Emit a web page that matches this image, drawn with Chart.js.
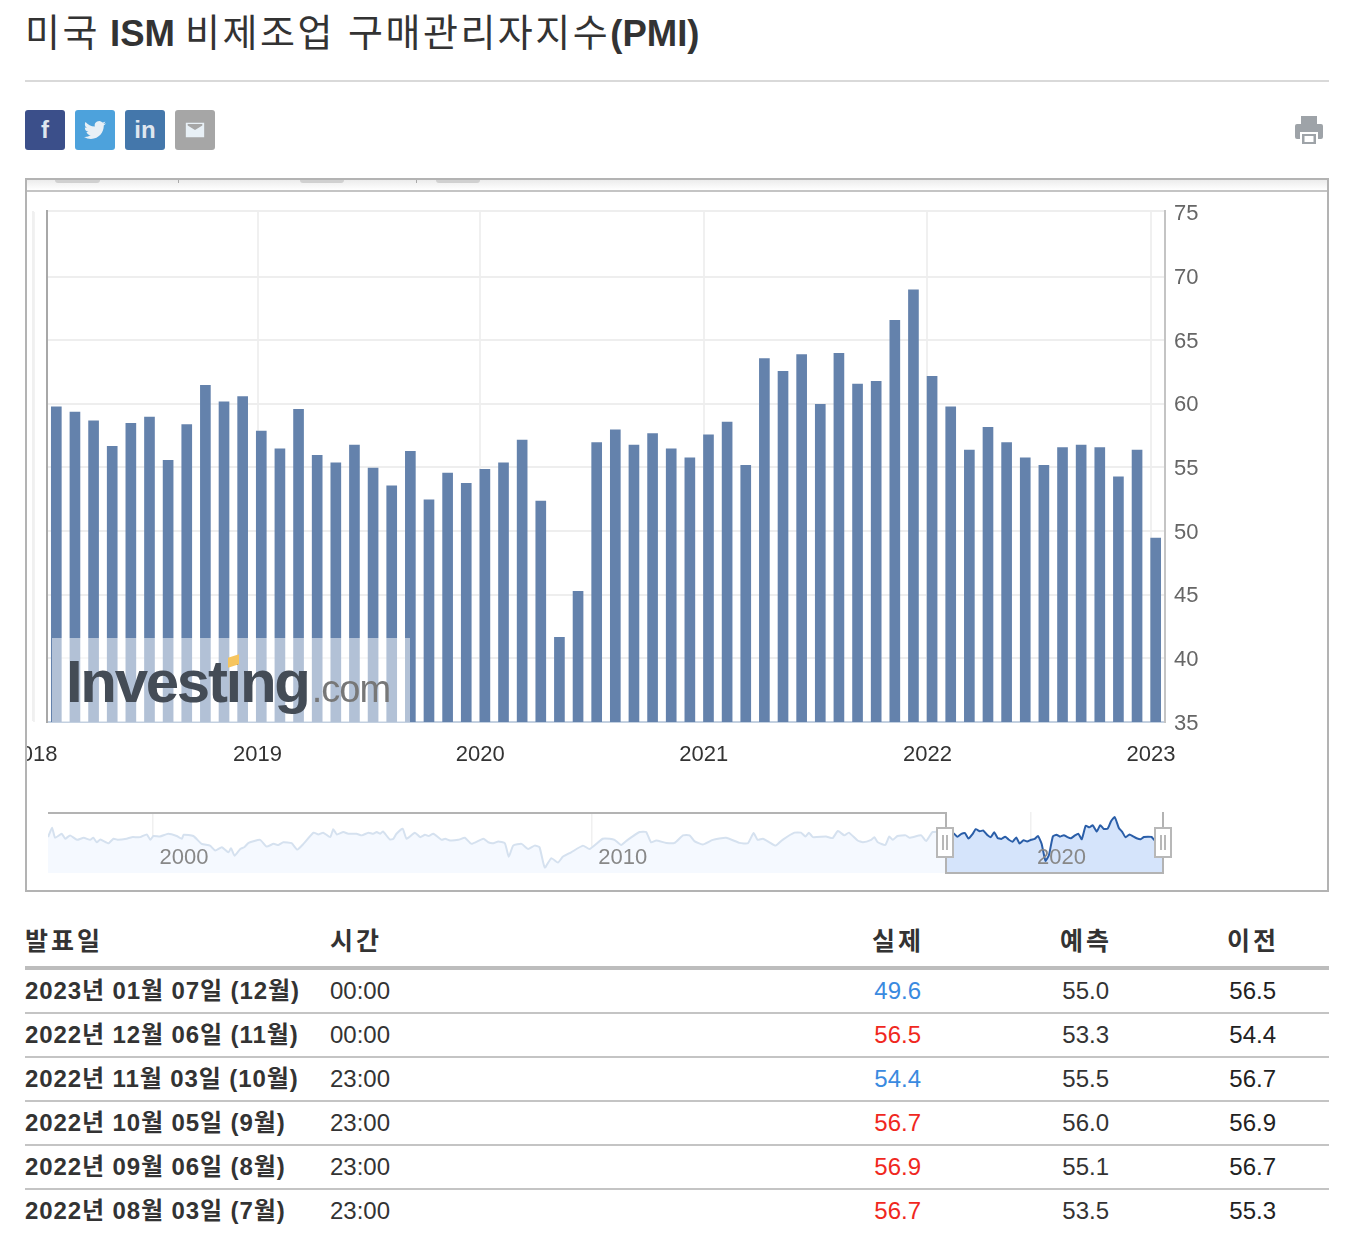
<!DOCTYPE html>
<html lang="ko">
<head>
<meta charset="utf-8">
<title>미국 ISM 비제조업 구매관리자지수(PMI)</title>
<script src="https://cdn.jsdelivr.net/npm/chart.js"></script>
<style>
  html, body { margin: 0; padding: 0; background: #fff; }
  body { position: relative; width: 1350px; height: 1246px; overflow: hidden; color: #333;
         font-family: "Liberation Sans", "Noto Sans CJK KR", sans-serif; }
  .abs { position: absolute; }
  h1 { position: absolute; left: 25px; top: 10px; margin: 0; font-size: 36.500px; line-height: 46px; font-weight: 700; white-space: nowrap; }
  h1 span { font-size: 38px; font-weight: 400; letter-spacing: 2.500px; }
  .rule { left: 25px; top: 80px; width: 1304px; height: 2px; background: #d9d9d9; }
  .icon { top: 110px; width: 40px; height: 40px; border-radius: 3px; color: #dfe6ef; text-align: center;
          font: 700 24px/40px "Liberation Sans", sans-serif; }
  .icon svg { position: absolute; left: 9px; top: 9px; width: 22px; height: 22px; fill: #e8f0f6; }
  .frame { left: 25px; top: 178px; width: 1300px; height: 710px; border: 2px solid #b3b3b3; }
  .strip { left: 27px; top: 180px; width: 1300px; height: 10px; border-bottom: 2px solid #c4c4c4;
           background: linear-gradient(#ececec, #fff); }
  .pill { top: 180px; height: 3px; background: #d0d0d0; border-radius: 0 0 6px 6px; }
  .nick { top: 180px; width: 1px; height: 3px; background: #aaa; }
  #mainWrap { left: 27px; top: 195px; width: 1300px; height: 600px; }
  #navWrap { left: 48px; top: 812px; width: 1115px; height: 61px; }
  .wash { left: 52px; top: 638px; width: 358px; height: 84px; background: rgba(255,255,255,.5); }
  .logo { left: 66px; top: 650px; font: 700 60px/64px "Liberation Sans", sans-serif; letter-spacing: -2.300px; color: #444c56; white-space: nowrap; }
  .logo small { font-size: 38px; font-weight: 400; letter-spacing: -1px; color: #777; margin-left: 3px; }
  .dot { left: 228px; top: 656px; width: 11px; height: 10px; background: #f6c55f; transform: skewY(-18deg); }
  .mask1 { left: 48px; top: 812px; width: 897px; height: 60px; border-top: 2px solid #b3b3b3; border-right: 2px solid #b3b3b3; }
  .mask2 { left: 947px; top: 812px; width: 215px; height: 60px; border-right: 2px solid #b3b3b3; border-bottom: 2px solid #b3b3b3; }
  .handle { top: 827px; width: 14px; height: 27px; background: #fff; border: 2px solid #b8b8b8; }
  .handle i { position: absolute; left: 4px; top: 6px; width: 2px; height: 15px; border-left: 2px solid #b8b8b8; border-right: 2px solid #b8b8b8; }
  table { position: absolute; left: 25px; top: 915px; width: 1304px; border-collapse: collapse; table-layout: fixed; font-size: 24px; }
  th { height: 51px; padding: 0; border-bottom: 4px solid #bdbdbd; font-size: 25px; font-weight: 700; letter-spacing: 3px; color: #333; text-align: right; }
  th span { position: relative; top: -2px; margin-right: -3px; }
  td { height: 42px; padding: 0; border-bottom: 2px solid #c4c4c4; text-align: right; color: #333; white-space: nowrap; }
  tr:last-child td { border-bottom: 0; }
  th.l, td.l { text-align: left; }
  td.date span { position: relative; top: -3px; font-weight: 700; letter-spacing: .9px; }
</style>
</head>
<body>
  <h1><span>미국</span> ISM <span>비제조업 구매관리자지수</span>(PMI)</h1>
  <div class="abs rule"></div>

  <div class="abs icon" style="left:25px;background:#3b4f8a">f</div>
  <div class="abs icon" style="left:75px;background:#4da2dc"><svg viewBox="0 0 24 24"><path d="M23.953 4.57a10 10 0 01-2.825.775 4.958 4.958 0 002.163-2.723c-.951.555-2.005.959-3.127 1.184a4.92 4.92 0 00-8.384 4.482C7.69 8.095 4.067 6.13 1.64 3.162a4.822 4.822 0 00-.666 2.475c0 1.71.87 3.213 2.188 4.096a4.904 4.904 0 01-2.228-.616v.06a4.923 4.923 0 003.946 4.827 4.996 4.996 0 01-2.212.085 4.936 4.936 0 004.604 3.417 9.867 9.867 0 01-6.102 2.105c-.39 0-.779-.023-1.17-.067a13.995 13.995 0 007.557 2.209c9.053 0 13.998-7.496 13.998-13.985 0-.21 0-.42-.015-.63A9.935 9.935 0 0024 4.59z"/></svg></div>
  <div class="abs icon" style="left:125px;background:#4477ab">in</div>
  <div class="abs icon" style="left:175px;background:#a6a6a6"><svg viewBox="0 0 24 24"><path d="M2 4h20v16H2zM4 7l8 5 8-5v-1.500H4z" fill-rule="evenodd"/></svg></div>
  <svg class="abs" style="left:1294px;top:115px" width="30" height="30" viewBox="0 0 30 30"><path fill="#9ea3a8" d="M7 1h16v8H7zM3 9h24a2 2 0 012 2v11a2 2 0 01-2 2h-3v-7H6v7H3a2 2 0 01-2-2V11a2 2 0 012-2zM8 19h14v10H8zM10.500 21v6h9v-6z" fill-rule="evenodd"/></svg>

  <div class="abs frame"></div>
  <div class="abs strip"></div>
  <div class="abs pill" style="left:55px;width:45px"></div>
  <div class="abs pill" style="left:300px;width:44px"></div>
  <div class="abs pill" style="left:436px;width:44px"></div>
  <div class="abs nick" style="left:178px"></div>
  <div class="abs nick" style="left:416px"></div>
  <div class="abs" style="left:33px;top:212px;width:2px;height:510px;background:#f2f2f2"></div>

  <div class="abs" id="mainWrap"><canvas id="mainChart"></canvas></div>
  <div class="abs wash"></div>
  <div class="abs logo">Investing<small>.com</small></div>
  <div class="abs dot"></div>

  <div class="abs" id="navWrap"><canvas id="navChart"></canvas></div>
  <div class="abs mask1"></div>
  <div class="abs mask2"></div>
  <div class="abs handle" style="left:936px"><i></i></div>
  <div class="abs handle" style="left:1154px"><i></i></div>

  <table id="releases">
    <colgroup><col style="width:305px"><col style="width:470px"><col style="width:121px"><col style="width:188px"><col style="width:167px"><col style="width:53px"></colgroup>
    <thead><tr><th class="l"><span>발표일</span></th><th class="l"><span>시간</span></th><th><span>실제</span></th><th><span>예측</span></th><th><span>이전</span></th><th></th></tr></thead>
    <tbody></tbody>
  </table>

  <script>
    // release month of each figure, bars sit evenly spaced like an ordinal axis
    const releaseDates = [
      '2018-02-05','2018-03-05','2018-04-04','2018-05-03','2018-06-05','2018-07-05','2018-08-03','2018-09-06','2018-10-03','2018-11-05','2018-12-05',
      '2019-01-07','2019-02-05','2019-03-05','2019-04-03','2019-05-03','2019-06-05','2019-07-03','2019-08-05','2019-09-05','2019-10-03','2019-11-05','2019-12-04',
      '2020-01-07','2020-02-05','2020-03-04','2020-04-03','2020-05-05','2020-06-03','2020-07-06','2020-08-05','2020-09-03','2020-10-05','2020-11-04','2020-12-03',
      '2021-01-06','2021-02-03','2021-03-03','2021-04-05','2021-05-05','2021-06-03','2021-07-06','2021-08-04','2021-09-03','2021-10-05','2021-11-03','2021-12-03',
      '2022-01-06','2022-02-03','2022-03-03','2022-04-05','2022-05-04','2022-06-03','2022-07-06','2022-08-03','2022-09-06','2022-10-05','2022-11-03','2022-12-06',
      '2023-01-07'
    ];
    const actualValues = [
      59.9,59.5,58.8,56.8,58.6,59.1,55.7,58.5,61.6,60.3,60.7,
      58.0,56.6,59.7,56.1,55.5,56.9,55.1,53.7,56.4,52.6,54.7,53.9,
      55.0,55.5,57.3,52.5,41.8,45.4,57.1,58.1,56.9,57.8,56.6,55.9,
      57.7,58.7,55.3,63.7,62.7,64.0,60.1,64.1,61.7,61.9,66.7,69.1,
      62.3,59.9,56.5,58.3,57.1,55.9,55.3,56.7,56.9,56.7,54.4,56.5,
      49.6
    ];
    const yearLabels = ['2018', '2019', '2020', '2021', '2022', '2023'];
    const yearTickIndex = [-1.25, 10.8, 22.75, 34.75, 46.75, 58.75];
    const valueTicks = [35, 40, 45, 50, 55, 60, 65, 70, 75];

    // overview strip: history before the selected window
    const historyYears = [
      1997.61,1997.70,1997.77,1997.92,1998.00,1998.11,1998.27,1998.42,1998.57,1998.64,1998.72,1998.80,1998.99,
      1999.10,1999.21,1999.40,1999.52,1999.71,1999.86,1999.94,2000.01,2000.16,2000.35,2000.54,2000.66,2000.70,2000.92,
      2001.11,2001.30,2001.42,2001.57,2001.72,2001.78,2001.86,2001.99,2002.08,2002.18,2002.44,2002.59,2002.75,2002.86,2002.97,
      2003.16,2003.29,2003.43,2003.66,2003.77,2003.88,2004.04,2004.11,2004.19,2004.34,2004.45,2004.64,2004.76,2004.91,
      2005.02,2005.10,2005.18,2005.24,2005.40,2005.48,2005.55,2005.69,2005.78,2005.97,2006.09,2006.20,2006.28,2006.39,2006.58,2006.66,2006.77,2006.96,
      2007.11,2007.26,2007.53,2007.64,2007.76,2007.87,2008.02,2008.11,2008.21,2008.40,2008.55,2008.70,2008.81,2008.93,
      2009.08,2009.23,2009.34,2009.53,2009.80,2009.95,2010.25,2010.41,2010.52,2010.67,2010.82,2011.09,2011.24,2011.35,2011.47,2011.70,2011.89,
      2012.08,2012.23,2012.34,2012.53,2012.76,2013.06,2013.37,2013.56,2013.69,2013.78,2013.90,2014.05,2014.19,2014.35,2014.62,2014.77,2014.87,2014.95,
      2015.04,2015.34,2015.49,2015.61,2015.76,2015.86,2016.06,2016.18,2016.37,2016.44,2016.52,2016.69,2016.78,2016.86,2016.97,
      2017.16,2017.24,2017.51,2017.62,2017.77
    ];
    const historyValues = [
      56.6,62.5,56.2,58.7,55.6,57.7,54.9,56.2,54.9,56.2,53.4,55.1,52.8,
      55.6,54.9,55.6,56.6,56.6,58.3,54.9,57.3,57.0,58.7,57.3,55.6,58.1,57.3,
      52.4,51.3,48.2,50.3,47.1,49.6,45.0,49.2,50.3,53.0,54.9,50.7,52.4,51.7,53.4,
      52.8,48.8,52.4,59.4,58.3,59.4,56.6,61.5,58.3,59.8,58.7,58.7,57.7,59.4,
      58.7,59.8,58.7,60.2,55.1,55.6,58.7,61.9,55.6,59.4,56.6,58.1,57.3,58.7,54.9,55.6,54.5,54.9,
      56.2,52.4,55.6,53.4,52.8,53.9,52.8,44.3,51.3,52.4,49.2,51.3,50.3,37.6,
      43.5,40.7,44.3,47.1,51.3,49.2,55.6,55.6,54.9,51.7,54.9,59.8,59.8,53.4,54.5,53.0,53.0,
      57.7,57.7,54.1,52.0,54.9,56.2,53.0,52.8,59.2,54.9,55.6,53.4,51.3,54.9,59.4,59.4,57.0,59.4,
      56.6,57.0,56.0,60.4,57.7,59.4,54.5,53.4,54.9,56.6,53.4,51.7,57.0,54.9,57.3,
      57.7,56.2,57.7,54.1,59.8
    ];
    const overviewTicks = [2000, 2010, 2020];

    // table
    const tableDates = ['2023년 01월 07일 (12월)','2022년 12월 06일 (11월)','2022년 11월 03일 (10월)','2022년 10월 05일 (9월)','2022년 09월 06일 (8월)','2022년 08월 03일 (7월)'];
    const tableTimes = ['00:00','00:00','23:00','23:00','23:00','23:00'];
    const tableActual = ['49.6','56.5','54.4','56.7','56.9','56.7'];
    const tableForecast = ['55.0','53.3','55.5','56.0','55.1','53.5'];
    const tablePrevious = ['56.5','54.4','56.7','56.9','56.7','55.3'];

    const tbody = document.querySelector('#releases tbody');
    tableDates.forEach((d, i) => {
      const color = +tableActual[i] < +tableForecast[i] ? '#3a8ae0' : '#f0281e';
      tbody.insertAdjacentHTML('beforeend',
        '<tr><td class="l date"><span>' + d + '</span></td><td class="l">' + tableTimes[i] + '</td>' +
        '<td style="color:' + color + '">' + tableActual[i] + '</td><td>' + tableForecast[i] + '</td>' +
        '<td style="color:#222">' + tablePrevious[i] + '</td><td></td></tr>');
    });

    const YEAR_MS = 365.25 * 86400000;
    const FONT = '"Liberation Sans", sans-serif';
    const Y_MAX = 75.15; // the plot's top edge sits just above the 75 label
    const BAR_SHIFT = 0.14; // bars in the picture sit about 2px under the gridlines
    Chart.defaults.animation = false;
    Chart.defaults.responsive = true;
    Chart.defaults.maintainAspectRatio = false;

    new Chart(document.getElementById('mainChart'), {
      type: 'bar',
      data: {
        labels: releaseDates,
        datasets: [{ data: actualValues, backgroundColor: '#6482ac', barThickness: 10, yAxisID: 'yLeft' }]
      },
      options: {
        layout: { padding: { left: 20, top: 16, right: 0, bottom: 0 } },
        plugins: { legend: { display: false }, tooltip: { enabled: false } },
        scales: {
          x: {
            type: 'category',
            offset: true,
            afterBuildTicks: s => { s.ticks = yearTickIndex.map(v => ({ value: v })); },
            afterFit: s => { s.height = 73; s.paddingLeft = 0; s.paddingRight = 0; },
            grid: { offset: false, color: '#f0f0f0', lineWidth: 2, drawTicks: false },
            border: { color: '#c3d0e0', width: 2 },
            ticks: {
              autoSkip: false, maxRotation: 0, padding: 20, color: '#333',
              font: { family: FONT, size: 22 },
              callback: v => yearLabels[yearTickIndex.indexOf(v)]
            }
          },
          y: {
            position: 'right',
            min: 35,
            max: Y_MAX,
            afterBuildTicks: s => { s.ticks = valueTicks.concat(Y_MAX).map(v => ({ value: v })); },
            afterFit: s => { s.width = 162; s.paddingTop = 0; s.paddingBottom = 0; },
            grid: { color: c => (c.tick.value === 75 ? 'transparent' : '#eeeeee'), lineWidth: 2, drawTicks: false },
            border: { color: '#c4c4c4', width: 2 },
            ticks: {
              padding: 9, labelOffset: 1.5, color: '#666', font: { family: FONT, size: 22 },
              callback: v => (v === Y_MAX ? '' : String(v))
            }
          },
          yLeft: {
            position: 'left',
            min: 35 + BAR_SHIFT,
            max: Y_MAX + BAR_SHIFT,
            afterFit: s => { s.width = 0; s.paddingTop = 0; s.paddingBottom = 0; },
            grid: { display: false, drawTicks: false },
            border: { color: '#a8a8a8', width: 2 },
            ticks: { display: false }
          }
        }
      }
    });

    // selected window in decimal years
    const selectedPoints = releaseDates.map((d, i) => ({ x: 1970 + Date.parse(d) / YEAR_MS, y: actualValues[i] }));
    const historyPoints = historyYears.map((y, i) => ({ x: y, y: historyValues[i] }));
    historyPoints.push(selectedPoints[0]);

    new Chart(document.getElementById('navChart'), {
      type: 'line',
      data: {
        datasets: [
          { data: historyPoints, borderColor: '#d5e1ef', backgroundColor: '#f5f9ff', borderWidth: 2, pointRadius: 0, fill: 'start', tension: 0.15 },
          { data: selectedPoints, borderColor: '#2a5ea8', backgroundColor: '#d5e4fb', borderWidth: 2, pointRadius: 0, fill: 'start', tension: 0.15 }
        ]
      },
      options: {
        layout: { padding: 0 },
        plugins: { legend: { display: false }, tooltip: { enabled: false } },
        scales: {
          x: {
            type: 'linear',
            min: 1997.608,
            max: 2023.02,
            afterBuildTicks: s => { s.ticks = overviewTicks.map(v => ({ value: v })); },
            afterFit: s => { s.height = 0; s.paddingLeft = 0; s.paddingRight = 0; },
            grid: { color: '#f0f0f0', lineWidth: 1.5, drawTicks: false },
            border: { display: false },
            ticks: {
              autoSkip: false, maxRotation: 0, z: 1, mirror: true, labelOffset: 31, padding: 2, color: '#888',
              font: { family: FONT, size: 22 },
              callback: v => String(v)
            }
          },
          y: {
            display: false,
            min: 34.2,
            max: 72.3
          }
        }
      }
    });
  </script>
</body>
</html>
